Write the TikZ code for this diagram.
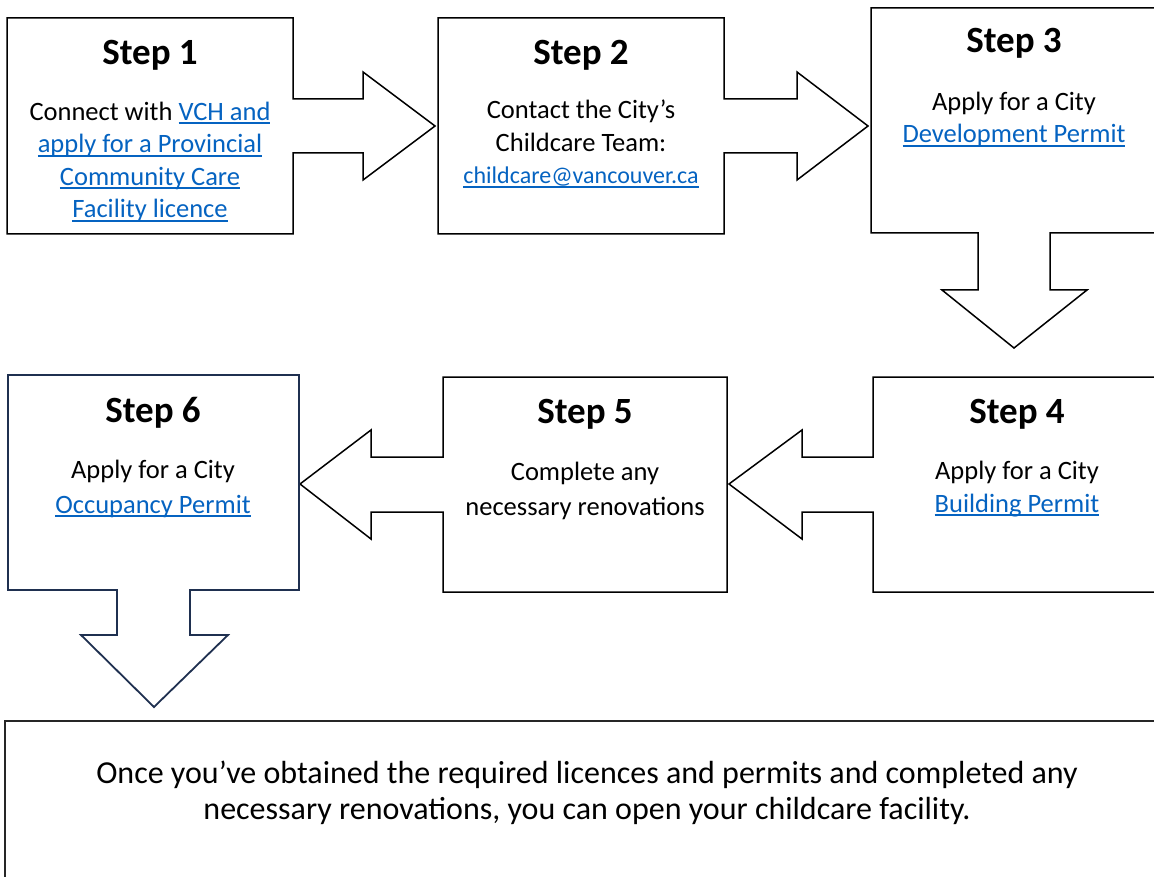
\documentclass[tikz,border=0pt]{standalone}
\usepackage{fontspec}
\setmainfont{Carlito}
\usepackage{xcolor}
\definecolor{linkblue}{HTML}{0563C1}
\definecolor{stepnavy}{HTML}{1F3050}
\newcommand{\weblink}[1]{\textcolor{linkblue}{\setbox0\hbox{#1}\rlap{\rule[-3.6pt]{\wd0}{1.6pt}}\box0}}

\begin{document}
\begin{tikzpicture}[x=1pt, y=-1pt,
outline/.style={draw=black, line width=1.5pt, line join=miter},
steptitle/.style={anchor=base, inner sep=0pt, font=\fontsize{37}{44}\selectfont\bfseries},
steptext/.style={anchor=base, inner sep=0pt, align=center, font=\fontsize{26.5}{32.5}\selectfont},
]
\useasboundingbox (0,0) rectangle (1154,877);
\fill[white] (0,0) rectangle (1154,877);

%Nodes (text is placed by the baseline of its last line)
\node[steptitle] (title1) at (150,65) {Step 1};
\node[steptext] (step1) at (150,218) {Connect with \weblink{VCH and}\\\weblink{apply for a Provincial}\\\weblink{Community Care}\\\weblink{Facility licence}};
\node[steptitle] (title2) at (581,65) {Step 2};
\node[steptext] (step2) at (581,184) {Contact the City’s\\Childcare Team:\\\weblink{\fontsize{24}{26}\selectfont childcare@vancouver.ca}};
\node[steptitle] (title3) at (1014,53) {Step 3};
\node[steptext] (step3) at (1014,143) {Apply for a City\\\weblink{Development Permit}};
\node[steptitle] (title4) at (1017,423) {Step 4};
\node[steptext] (step4) at (1017,512) {Apply for a City\\\weblink{Building Permit}};
\node[steptitle] (title5) at (585,423) {Step 5};
\node[steptext, font=\fontsize{26.5}{35}\selectfont] (step5) at (585,515) {Complete any\\necessary renovations};
\node[steptitle] (title6) at (153,422) {Step 6};
\node[steptext, font=\fontsize{26.5}{35}\selectfont] (step6) at (153,513) {Apply for a City\\\weblink{Occupancy Permit}};
\node[steptext, font=\fontsize{32}{36}\selectfont] (final) at (587,819) {Once you’ve obtained the required licences and permits and completed any\\necessary renovations, you can open your childcare facility.};

%Lines
\draw[outline] (7,18) -- (293,18) -- (293,99) -- (363,99) -- (363,72) -- (435,126) -- (363,180) -- (363,153) -- (293,153) -- (293,234) -- (7,234) -- cycle;
\draw[outline] (438,18) -- (724,18) -- (724,99) -- (797,99) -- (797,72) -- (868,126) -- (797,180) -- (797,153) -- (724,153) -- (724,234) -- (438,234) -- cycle;
\draw[outline] (1170,8) -- (871,8) -- (871,233) -- (978,233) -- (978,290) -- (942,290) -- (1014,348) -- (1087,290) -- (1050,290) -- (1050,233) -- (1170,233);
\draw[outline] (1170,377) -- (873,377) -- (873,457) -- (802,457) -- (802,430) -- (729,484) -- (802,539) -- (802,512) -- (873,512) -- (873,592) -- (1170,592);
\draw[outline] (727,377) -- (443,377) -- (443,457) -- (371,457) -- (371,430) -- (300,484) -- (371,539) -- (371,512) -- (443,512) -- (443,592) -- (727,592) -- cycle;
\draw[outline, draw=stepnavy, line width=1.8pt] (8,375) -- (299,375) -- (299,590) -- (190,590) -- (190,635) -- (228,635) -- (154,707) -- (81,635) -- (117,635) -- (117,590) -- (8,590) -- cycle;
\draw[outline, draw=black!85] (1170,721) -- (5,721) -- (5,890);

\end{tikzpicture}
\end{document}
